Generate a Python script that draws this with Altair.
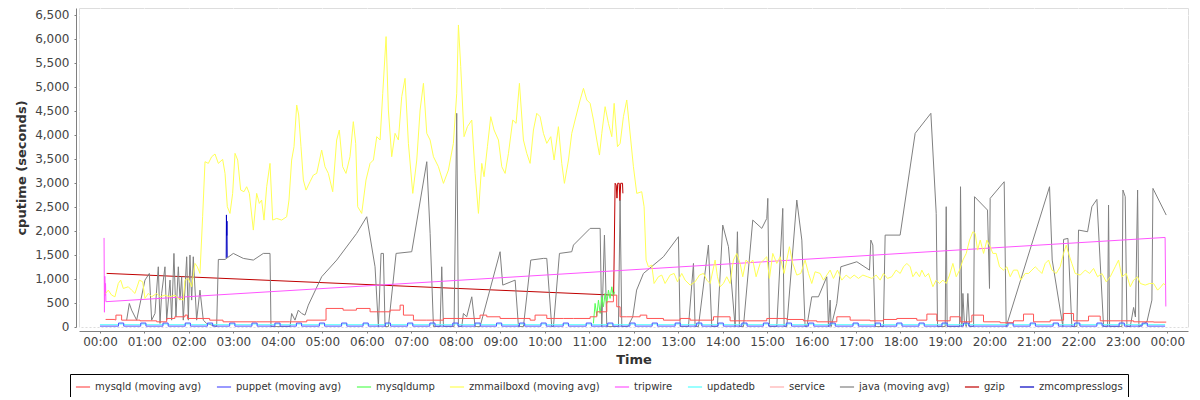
import altair as alt
import pandas as pd

series_names = ["mysqld (moving avg)", "puppet (moving avg)", "mysqldump",
                "zmmailboxd (moving avg)", "tripwire", "updatedb", "service",
                "java (moving avg)", "gzip", "zmcompresslogs"]
series_colors = ["#FF5555", "#5555FF", "#55FF55", "#FFFF55", "#FF55FF",
                 "#55FFFF", "#FFAFAF", "#808080", "#C00000", "#0000C0"]

# times are minutes since 00:00
zmmailboxd_t = [7.6, 11.2, 15.7, 20.2, 24.7, 27.9, 31.5, 38.2, 42.7, 47.2, 53.1, 57.6, 60.7, 65.2, 69.7, 76.5, 81.0, 87.7, 94.5, 101.2,
                105.7, 112.4, 114.7, 119.2, 123.7, 128.2, 131.3, 134.9, 138.5, 141.7, 146.2, 150.7, 155.2, 159.7, 165.5, 168.7, 171.8, 175.4, 179.0, 182.2,
                185.8, 189.8, 194.3, 197.9, 201.5, 206.9, 211.4, 215.0, 218.1, 221.3, 224.9, 229.4, 233.0, 238.4, 245.1, 251.9, 255.0, 258.6, 261.8, 265.4,
                268.1, 271.2, 274.4, 278.0, 283.4, 287.9, 292.4, 299.1, 303.6, 308.1, 314.0, 319.3, 322.9, 327.4, 331.9, 337.3, 341.8, 345.0, 347.7, 353.1, 358.9,
                364.4, 368.9, 373.4, 377.9, 381.5, 386.0, 389.1, 393.6, 398.1, 402.6, 407.1, 411.6, 416.1, 422.0, 427.4, 431.9, 436.4, 440.9, 445.4, 449.9,
                456.6, 463.4, 470.1, 476.8, 481.3, 483.6, 486.7, 491.2, 495.7, 501.6, 506.1, 510.6, 515.1, 518.2, 522.7, 527.2, 531.7, 537.6, 542.1, 546.6,
                551.1, 556.9, 561.4, 565.9, 571.3, 575.8, 580.3, 584.8, 589.3, 593.8, 598.3, 602.8, 608.2, 612.7, 618.5, 623.0, 626.6, 632.1, 636.5, 641.0,
                647.8, 652.3, 656.8, 661.3, 665.8, 670.3, 673.9, 677.0, 681.5, 686.0, 690.5, 693.7, 698.2, 701.8, 706.2, 710.7, 716.1, 719.7, 724.2,
                730.9, 734.1, 736.8, 739.9, 744.4, 747.6, 753.4, 757.9, 762.4, 769.2, 774.6, 779.1, 784.9, 789.4, 796.2, 802.9, 808.8, 814.2, 818.7, 823.2,
                829.9, 833.1, 836.6, 841.1, 845.6, 850.1, 854.6, 859.1, 863.6, 867.2, 871.7, 876.2, 880.7, 885.2, 890.6, 895.1, 899.6, 903.2, 907.7, 913.1,
                917.6, 923.0, 926.6, 930.2, 934.7, 940.1, 945.5, 951.3, 955.9, 960.3, 964.8, 971.6, 976.1, 980.6, 985.1, 989.6, 995.0, 1000.8, 1006.7, 1012.1,
                1017.5, 1023.3, 1029.2, 1035.5, 1041.3, 1047.2, 1052.6, 1057.0, 1062.5, 1068.3, 1074.1,
                1079.6, 1084.1, 1088.6, 1093.1, 1096.7, 1101.2, 1105.7, 1108.8, 1113.3, 1117.8, 1123.7, 1128.2, 1132.7, 1137.2, 1141.7, 1146.2, 1150.7, 1155.2, 1159.7, 1164.2,
                1168.7, 1173.2, 1177.7, 1180.8, 1184.0, 1187.6, 1192.1, 1196.6, 1201.1, 1204.6, 1209.1, 1213.6, 1219.0, 1223.5, 1228.0, 1232.5, 1237.9, 1242.4, 1248.3, 1252.8,
                1257.3, 1261.8, 1266.3, 1270.8, 1275.3, 1279.8, 1284.3, 1290.1, 1295.5, 1300.0, 1303.6, 1306.7, 1311.2, 1315.7, 1322.5, 1329.2, 1335.1, 1340.5, 1345.9, 1351.7,
                1357.6, 1363.0, 1369.7, 1374.2, 1378.7, 1384.6, 1390.0, 1394.5, 1399.9, 1403.5, 1410.2, 1416.1, 1421.5, 1426.9, 1431.4, 1435.0, 1437.2]
zmmailboxd_v = [692, 761, 657, 622, 900, 970, 796, 831, 761, 692, 970, 935, 588, 692, 622, 692, 622, 657, 622, 657,
                588, 553, 970, 1005, 831, 1318, 1248, 1109, 2292, 3440, 3405, 3544, 3600, 3405, 3489, 3196, 2501, 2361, 2779, 3614,
                3475, 2849, 2814, 2918, 2779, 2014, 2779, 2570, 2640, 2222, 2918, 3405, 2222, 2257, 2222, 2292, 2640, 3475, 3753, 4623,
                4414, 3753, 3057, 2848, 3022, 3161, 3196, 3683, 3335, 3196, 2814, 3892, 4101, 3335, 3196, 3544, 4275, 3823, 2501, 2361, 3057,
                3405, 3475, 3962, 3892, 4866, 6049, 4518, 3544, 4031, 3892, 4797, 5179, 3823, 2779, 3475, 4518, 5075, 4031, 3892, 3544,
                3335, 2988, 3266, 3823, 4866, 6292, 5423, 3962, 4170, 4309, 3196, 2362, 3405, 3127, 3753, 4379, 4101, 3892, 3335, 3196,
                3614, 4309, 4240, 5075, 3892, 3614, 3405, 4101, 4449, 4379, 4031, 3823, 3962, 3475, 4170, 3405, 2988, 3475, 4031, 4309,
                4727, 4970, 4727, 4657, 4309, 3892, 3579, 4031, 4588, 4240, 3962, 4657, 3753, 3823, 4379, 4727, 3892, 3335, 2779,
                2814, 2501, 1388, 1248, 1283, 900, 1040, 1075, 900, 1075, 1109, 935, 1109, 970, 866, 935, 1075, 1109, 970, 900,
                1388, 1040, 831, 900, 1040, 900, 1388, 1527, 1318, 1040, 1388, 1318, 1388, 1040, 1318, 1388, 1457, 1005, 1527, 1318,
                1457, 1109, 1388, 1666, 1318, 1075, 1109, 1388, 1109, 900, 1144, 1109, 970, 1075, 1179, 1005, 1179, 970, 1075, 1005,
                1075, 1005, 1075, 1040, 1005, 1075, 970, 1109, 1005, 1040, 1179,
                1109, 1248, 1318, 1248, 1040, 1144, 1040, 1179, 1040, 1109, 831, 970, 900, 970, 900, 1075, 1318, 1040, 1179, 1388,
                1527, 1805, 1979, 1944, 1596, 1805, 1527, 1805, 1666, 1527, 1527, 1248, 1179, 1248, 1040, 1179, 1179, 970, 1109, 1109,
                1179, 1248, 1179, 1109, 1318, 1388, 1179, 1109, 1248, 1527, 1701, 1527, 1318, 1109, 1075, 1179, 1109, 1214, 1040, 1109,
                935, 1040, 1248, 1388, 1040, 1109, 831, 970, 1040, 900, 866, 900, 900, 761, 831, 900, 866]

java_t = [36, 39.6, 42.7, 49.5, 60.7, 66.6, 69.7, 74.2, 78.7, 81, 83.2, 87.7, 90, 94.5, 96.7, 99.8, 102.5, 105.7, 108, 110.2,
          112.4, 117, 119.2, 121.4, 123.7, 125.9, 130.4, 134.9, 139.4, 143.9, 157.4, 159.7, 168.7, 179.9, 193.4, 206.9, 220.4, 229.4, 230.7, 256.4,
          258.6, 263.1, 267.6, 272.1, 276.6, 281.1, 299.1, 319.4, 346.3, 359.9, 371.1, 375.6, 379.2, 382.4, 384.6, 389.1, 399.5, 420.6, 440.9, 445.4,
          449.9, 458.9, 461.1, 463.4, 477.7, 481.3, 483.6, 488.1, 490.3, 494.8, 501.6, 506.1, 512.8, 539.8, 543.4, 560.1, 564.6, 571.3, 581.2, 598.3,
          602.8, 609.5, 611.8, 619.9, 636.5, 638.8, 661.3, 674.8, 677.0, 680.6, 683.8, 699.5, 701.7, 704.0, 712.0, 718.8, 724.0, 733.2, 760.2, 780.4,
          782.7, 793.9, 800.7, 802.9, 807.4, 820.9, 825.4, 833.0, 840.2, 847.9, 856.9, 860.0, 862.7, 868.1, 880.7, 892.9, 899.6, 901.0, 903.2, 913.1,
          921.2, 923.0, 926.6, 940.1, 946.9, 951.3, 953.6, 960.3, 969.3, 980.6, 982.8, 985.1, 986.4, 994.1, 999.5, 1021.1, 1038.2, 1040.0, 1042.7, 1045.8,
          1057.0, 1059.3, 1079.5, 1099.8, 1121.0, 1128.2, 1130.0, 1140.3, 1141.7, 1143.0, 1159.7, 1161.0, 1162.8, 1164.2, 1166.0, 1168.7, 1170.9, 1173.2, 1178.6, 1179.9,
          1197.4, 1200.1, 1201.0, 1219.9, 1222.6, 1281.1, 1284.7, 1299.1, 1300.0, 1305.9, 1311.2, 1318.0, 1320.2, 1332.4, 1338.2, 1345.0, 1354.0, 1359.4, 1360.7, 1362.1,
          1378.7, 1380.1, 1383.2, 1385.5, 1390.0, 1394.5, 1397.0, 1399.9, 1401.7, 1412.5, 1419.2, 1420.6, 1438.5]
java_v = [135, 483, 344, 135, 970, 1109, 135, 274, 1248, 66, 692, 1248, 135, 970, 135, 1527, 205, 1248, 553, 1040,
          135, 1457, 135, 1492, 553, 1457, 135, 761, 135, 66, 0, 1401, 1401, 1527, 1423, 1388, 1527, 1527, 0, 0,
          274, 135, 344, 274, 240, 448, 1040, 1388, 1944, 2292, 1248, 0, 1527, 1527, 0, 0, 1527, 1562, 3440, 1944,
          0, 0, 1248, 0, 0, 4449, 0, 0, 274, 205, 622, 0, 0, 1562, 866, 970, 0, 0, 1388, 1423,
          1423, 0, 0, 1527, 1562, 1701, 2049, 2049, 0, 1909, 0, 0, 2640, 0, 0, 205, 762, 1109, 1457, 1875,
          0, 0, 1318, 0, 0, 1701, 0, 0, 2118, 1666, 0, 1979, 0, 0, 2222, 2049, 2257, 2675, 0, 0,
          2466, 0, 0, 2640, 1805, 0, 0, 622, 622, 1040, 0, 553, 0, 483, 1248, 1353, 1179, 1805, 1701, 0,
          0, 1909, 1909, 4031, 4449, 2362, 0, 0, 2501, 0, 0, 2918, 0, 692, 135, 0, 692, 0, 0, 2710,
          2431, 796, 2675, 3022, 0, 2918, 1388, 0, 1819, 1840, 0, 0, 2014, 1979, 2500, 2654, 0, 0, 2536, 0,
          0, 2849, 2710, 0, 0, 400, 200, 2849, 0, 100, 553, 2883, 2327]

mysqld_t = [7.6, 20.0, 21.5, 27.9, 29.2, 54, 76.5, 90, 101, 114.7, 118, 130, 148, 166, 211, 256, 279, 297, 305, 328,
            346, 364.4, 377.9, 391.4, 404.9, 409.4, 422.9, 440.9, 463.4, 485.8, 512.8, 521.8, 539.8, 562.3, 580.3, 587, 602.8, 625.3, 638.8, 661.3,
            670.3, 683.8, 692.7, 697.2, 701.7, 710.7, 728.7, 737.7, 760.2, 782.7, 796.2, 827.7, 850.1, 872.6, 899.6, 926.6, 949.1, 967.1, 994.1, 1012.1,
            1039, 1057, 1075, 1102, 1115.6, 1129, 1147, 1160.6, 1176.3, 1192, 1214.5, 1232.5, 1246, 1259.5, 1282, 1300, 1313.5, 1333.7, 1349.5, 1376.5,
            1394.5, 1421.5, 1438.5]
mysqld_v = [150, 140, 240, 240, 135, 121, 100, 170, 205, 240, 170, 170, 135, 100, 100, 100, 135, 135, 379, 344,
            379, 309, 309, 344, 448, 240, 135, 135, 170, 170, 240, 205, 170, 170, 135, 240, 170, 170, 170, 205,
            309, 518, 657, 414, 205, 205, 240, 170, 135, 170, 135, 205, 121, 121, 170, 149, 121, 100, 205, 135,
            121, 149, 170, 135, 261, 121, 205, 100, 240, 100, 80, 121, 261, 100, 135, 274, 121, 219, 121, 121,
            100, 94, 94]

# puppet / updatedb: periodic square pulses (start minute of each pulse)
pulse_starts = [25, 55, 85, 115, 145, 175, 205, 236, 265, 296, 326, 355, 385, 415, 445, 476, 506, 535, 566, 595,
                625, 656, 685, 715, 745, 776, 805, 834, 866, 895, 926, 956, 985, 1016, 1046, 1075, 1105, 1136, 1165,
                1225, 1255, 1286, 1315, 1345, 1375, 1406]
pulse_minutes = 7
puppet_base, puppet_top = 10, 75
updatedb_base, updatedb_top = 40, 55

mysqldump_t = [665.7, 668, 670.3, 672.5, 674.8, 677, 679.2, 681.5, 683.8, 686, 688.2, 690.5, 692.7, 694]
mysqldump_v = [66, 484, 226, 553, 275, 622, 414, 692, 484, 762, 588, 831, 622, 727]

tripwire_t = [5.5, 6.0, 6.5, 7.0, 7.5, 8.0, 1437.0, 1438.0]
tripwire_v = [1850, 300, 1050, 650, 900, 520, 1860, 420]

gzip_t = [9, 693, 695, 696.5, 697.5, 698.5, 700.5, 701.5, 702.5, 705, 705.5]
gzip_v = [1110, 657, 2990, 2950, 2680, 2990, 2990, 2620, 2990, 2990, 2780]

zmcompresslogs_t = [170.3, 170.6, 171.0, 171.3, 171.6]
zmcompresslogs_v = [1430, 2330, 1900, 2200, 1450]

service_t = []
service_v = []

x_ticks = list(range(0, 1441, 60))
y_ticks = list(range(0, 6501, 500))


def pulses(base, top):
    ts, vs = [0.0], [base]
    for p in pulse_starts:
        ts += [p, p + pulse_minutes]
        vs += [top, base]
    ts.append(1437.0)
    vs.append(base)
    return ts, vs


puppet_t, puppet_v = pulses(puppet_base, puppet_top)
updatedb_t, updatedb_v = pulses(updatedb_base, updatedb_top)

series_data = {
    "mysqld (moving avg)": (mysqld_t, mysqld_v, "step-after"),
    "puppet (moving avg)": (puppet_t, puppet_v, "step-after"),
    "mysqldump": (mysqldump_t, mysqldump_v, "linear"),
    "zmmailboxd (moving avg)": (zmmailboxd_t, zmmailboxd_v, "linear"),
    "tripwire": (tripwire_t, tripwire_v, "linear"),
    "updatedb": (updatedb_t, updatedb_v, "step-after"),
    "service": (service_t, service_v, "linear"),
    "java (moving avg)": (java_t, java_v, "linear"),
    "gzip": (gzip_t, gzip_v, "linear"),
    "zmcompresslogs": (zmcompresslogs_t, zmcompresslogs_v, "linear"),
}

rows = []
for name, (ts, vs, _) in series_data.items():
    for i, (t, v) in enumerate(zip(ts, vs, strict=True)):
        rows.append({"series": name, "t": t, "v": v, "i": i})
df = pd.DataFrame(rows, columns=["series", "t", "v", "i"])

FONT = "DejaVu Sans"

x_enc = alt.X("t:Q",
              scale=alt.Scale(domain=[-28.3, 1467.9], nice=False, zero=False),
              axis=alt.Axis(title="Time", values=x_ticks,
                            labelExpr="timeFormat(datetime(2020, 0, 1, 0, datum.value), '%H:%M')",
                            offset=4, tickSize=2, labelPadding=3, titlePadding=6,
                            domainColor="#808080", tickColor="#808080",
                            labelFont=FONT, labelFontSize=12, labelColor="#444444",
                            titleFont=FONT, titleFontSize=13, titleFontWeight="bold", titleColor="#333333",
                            grid=True, gridColor="#FFFFFF", gridDash=[2, 2], gridOpacity=0.95,
                            labelOverlap=False))
y_enc = alt.Y("v:Q",
              scale=alt.Scale(domain=[-8, 6646], nice=False, zero=False),
              axis=alt.Axis(title="cputime (seconds)", values=y_ticks, format=",d",
                            offset=3, tickSize=2, labelPadding=5, titlePadding=6,
                            domainColor="#808080", tickColor="#808080",
                            labelFont=FONT, labelFontSize=12, labelColor="#444444",
                            titleFont=FONT, titleFontSize=13, titleFontWeight="bold", titleColor="#333333",
                            grid=True, gridColor="#FFFFFF", gridDash=[2, 2], gridOpacity=0.95))
color_enc = alt.Color("series:N",
                      scale=alt.Scale(domain=series_names, range=series_colors),
                      legend=alt.Legend(title=None, orient="none", legendX=-9, legendY=366,
                                        direction="horizontal", columns=10,
                                        symbolType="stroke", symbolSize=200, symbolStrokeWidth=1.2,
                                        labelFont=FONT, labelFontSize=10, labelColor="#333333",
                                        labelOffset=4, columnPadding=12, padding=5,
                                        strokeColor="#000000", fillColor="#FFFFFF", labelLimit=400))

base = alt.Chart(df)
layers = []
# drawn last-to-first so the first series ends up on top
for name in reversed(series_names):
    interp = series_data[name][2]
    layers.append(
        base.transform_filter(alt.datum.series == name)
        .mark_line(strokeWidth=1, interpolate=interp, clip=True)
        .encode(x=x_enc, y=y_enc, color=color_enc, order=alt.Order("i:Q"))
    )

chart = alt.layer(*layers).properties(
    width=1109, height=319,
    autosize=alt.AutoSizeParams(type="none"),
    padding={"left": 71, "top": 0, "right": 4, "bottom": 70},
).configure_view(fill="#C0C0C0", stroke="#808080", strokeWidth=1
).configure(background="#FFFFFF")

chart.save("out.html", embed_options={"renderer": "svg", "actions": False})
